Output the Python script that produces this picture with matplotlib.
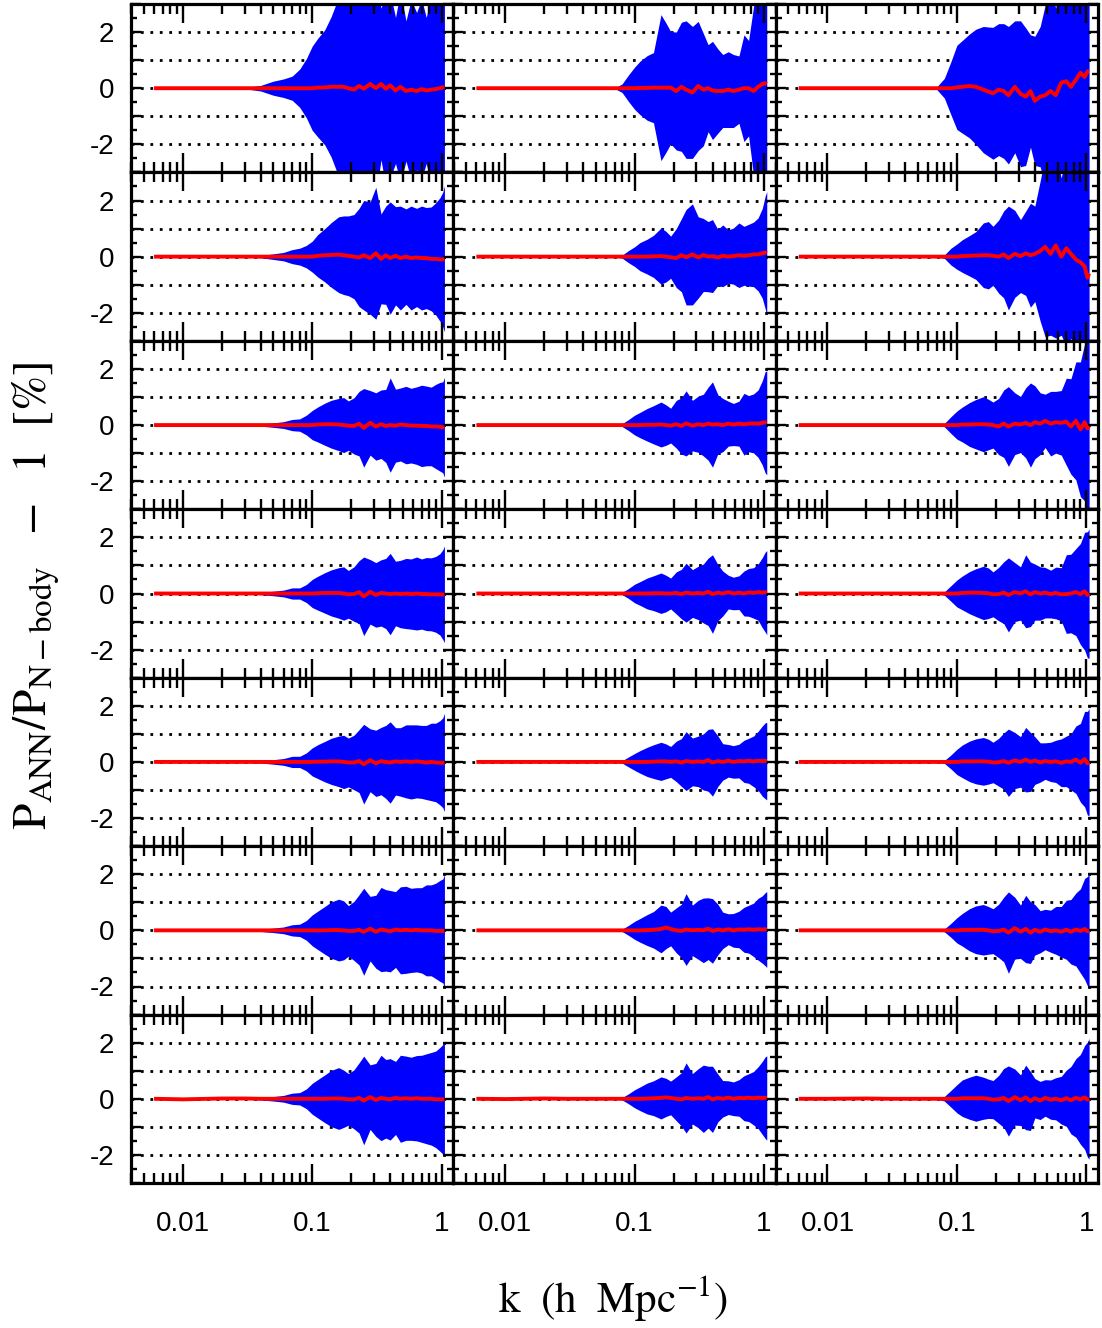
import numpy as np
import matplotlib
matplotlib.use("Agg")
import matplotlib.pyplot as plt
from matplotlib.ticker import FixedLocator, LogLocator, NullFormatter, FixedFormatter, MultipleLocator

# wavenumbers (h/Mpc) shared by every panel
k = [0.006, 0.01, 0.02, 0.03, 0.04, 0.05, 0.06, 0.07, 0.08, 0.09, 0.1, 0.11,
     0.125, 0.14, 0.16, 0.175, 0.19, 0.21, 0.23, 0.25, 0.28, 0.31, 0.34, 0.37,
     0.40, 0.44, 0.48, 0.53, 0.58, 0.64, 0.70, 0.76, 0.83, 0.90, 0.97, 1.02, 1.05]

Z11 = [0] * 11
Z10 = [0] * 10

# mean relative difference [%] per row, columns left -> right
mean_row1 = [
    Z11 + [0.02, 0.03, 0.05, 0.05, 0.05, 0.0, -0.05, 0.08, -0.02, 0.15, 0.0, 0.15, -0.02, 0.1, -0.08, 0.05, -0.1, -0.05, -0.1, -0.03, -0.08, -0.05, -0.03, 0.0, 0.03, 0.05],
    Z11 + [0.01, 0.01, 0.02, 0.02, 0.02, 0.02, -0.1, 0.05, -0.05, -0.15, 0.08, -0.05, 0.0, -0.08, -0.1, -0.1, -0.05, -0.1, -0.05, 0.0, 0.0, -0.1, 0.05, 0.15, 0.18, 0.15],
    Z10 + [0.03, 0.05, 0.08, 0.05, -0.05, -0.12, -0.18, -0.05, -0.1, -0.25, 0.05, -0.2, -0.3, -0.1, -0.45, -0.3, -0.25, -0.1, -0.25, 0.2, 0.25, 0.05, 0.3, 0.55, 0.4, 0.6, 0.6],
]
mean_row2 = [
    Z11 + [0.03, 0.05, 0.06, 0.07, 0.05, 0.03, 0.0, -0.03, 0.05, -0.05, 0.12, -0.08, 0.05, -0.05, 0.03, -0.05, 0.0, -0.05, -0.03, -0.05, -0.05, -0.08, -0.08, -0.1, -0.1, -0.08],
    Z11 + [0.0, 0.0, 0.01, 0.02, 0.0, -0.02, -0.05, 0.05, -0.02, 0.08, -0.03, 0.06, 0.0, 0.02, -0.03, 0.03, 0.0, 0.02, 0.05, 0.03, 0.05, 0.08, 0.08, 0.12, 0.15, 0.12],
    Z11 + [0.02, 0.03, 0.04, 0.05, 0.05, 0.03, 0.0, 0.08, -0.05, 0.1, 0.02, 0.12, 0.05, 0.1, 0.2, 0.35, 0.1, 0.4, 0.0, 0.3, 0.1, -0.1, -0.2, -0.35, -0.75, -0.6],
]
mean_row3 = [
    Z11 + [0.02, 0.03, 0.03, 0.02, 0.0, -0.02, -0.03, 0.05, -0.1, 0.08, -0.05, 0.03, -0.03, 0.0, -0.02, 0.02, 0.0, -0.02, -0.02, -0.03, -0.03, -0.05, -0.05, -0.06, -0.08, -0.08],
    Z11 + [0.0, 0.01, 0.01, 0.02, 0.0, -0.02, 0.03, -0.03, 0.06, -0.02, 0.03, 0.0, 0.05, 0.02, 0.03, 0.0, 0.05, 0.02, 0.05, 0.03, 0.05, 0.06, 0.05, 0.08, 0.1, 0.08],
    Z11 + [0.02, 0.02, 0.03, 0.03, 0.02, 0.0, -0.05, 0.05, -0.05, 0.05, 0.02, 0.08, 0.0, 0.1, 0.05, 0.15, 0.05, 0.1, 0.08, 0.12, -0.05, 0.15, -0.15, 0.1, -0.12, -0.05],
]
mean_row4 = [
    Z11 + [0.01, 0.02, 0.02, 0.02, 0.0, -0.03, -0.02, 0.05, -0.1, 0.06, -0.05, 0.02, 0.0, -0.02, 0.0, -0.02, 0.0, -0.02, 0.0, -0.02, -0.02, -0.03, -0.03, -0.03, -0.04, -0.03],
    Z11 + [0.0, 0.0, 0.01, 0.01, 0.0, 0.0, 0.02, -0.02, 0.03, 0.0, 0.02, 0.0, 0.06, -0.02, 0.03, 0.0, 0.05, 0.0, 0.03, 0.0, 0.04, 0.02, 0.05, 0.03, 0.05, 0.03],
    Z11 + [0.02, 0.03, 0.03, 0.02, 0.01, -0.03, -0.02, 0.03, -0.05, 0.05, 0.0, 0.08, -0.03, 0.05, 0.0, 0.03, -0.02, 0.02, -0.03, -0.02, 0.0, 0.05, -0.02, 0.08, -0.05, 0.0],
]
mean_row5 = [
    Z11 + [0.01, 0.01, 0.02, 0.02, 0.0, -0.02, -0.02, 0.03, -0.08, 0.06, -0.05, 0.03, 0.0, -0.02, 0.02, 0.0, 0.02, 0.0, 0.02, 0.0, -0.02, 0.0, -0.02, -0.03, -0.03, -0.02],
    Z11 + [0.0, 0.0, 0.01, 0.02, 0.02, 0.0, 0.02, -0.02, 0.03, 0.0, 0.02, 0.0, 0.06, -0.02, 0.03, 0.0, 0.04, 0.0, 0.03, 0.02, 0.04, 0.02, 0.04, 0.03, 0.04, 0.03],
    Z11 + [0.02, 0.02, 0.02, 0.02, 0.01, -0.02, -0.01, 0.03, -0.03, 0.05, 0.0, 0.08, 0.0, 0.05, -0.02, 0.03, 0.0, 0.02, -0.03, 0.02, 0.0, 0.08, -0.03, 0.1, -0.05, 0.0],
]
mean_row6 = [
    Z11 + [0.0, 0.0, 0.01, 0.01, 0.0, -0.02, -0.02, 0.02, -0.05, 0.06, -0.05, 0.03, 0.0, -0.03, 0.03, 0.0, 0.02, 0.0, 0.02, 0.0, 0.0, 0.0, -0.02, -0.02, -0.02, -0.02],
    Z11 + [0.0, 0.01, 0.02, 0.05, 0.1, 0.05, 0.0, -0.02, 0.03, 0.0, 0.02, 0.0, 0.06, -0.02, 0.03, 0.0, 0.04, 0.0, 0.03, 0.02, 0.04, 0.02, 0.04, 0.03, 0.04, 0.03],
    Z11 + [0.02, 0.02, 0.02, 0.02, 0.0, -0.03, -0.02, 0.03, -0.08, 0.08, -0.05, 0.05, -0.08, 0.02, -0.05, 0.03, -0.03, 0.0, -0.05, 0.02, -0.05, 0.03, -0.02, 0.05, -0.03, 0.0],
]
mean_row7 = [
    [0, -0.02, 0.01, 0.01, 0, 0, 0, 0, 0, 0, 0] + [0.0, 0.0, 0.01, 0.01, 0.0, -0.02, -0.02, 0.03, -0.06, 0.06, -0.04, 0.03, 0.0, -0.02, 0.03, 0.0, 0.02, 0.0, 0.02, 0.0, 0.0, 0.0, -0.02, -0.02, -0.02, -0.02],
    [0, -0.01, 0.01, 0.0, 0, 0, 0, 0, 0, 0, 0] + [0.0, 0.01, 0.02, 0.03, 0.05, 0.03, 0.0, -0.02, 0.03, 0.0, 0.02, 0.0, 0.06, -0.02, 0.03, 0.0, 0.04, 0.0, 0.03, 0.02, 0.04, 0.02, 0.04, 0.03, 0.04, 0.03],
    [0, 0.0, 0.01, 0.0, 0, 0, 0, 0, 0, 0, 0] + [0.02, 0.02, 0.02, 0.02, 0.0, -0.03, -0.02, 0.03, -0.08, 0.06, -0.05, 0.05, -0.08, 0.02, -0.06, 0.03, -0.03, 0.0, -0.05, 0.02, -0.05, 0.03, -0.02, 0.05, -0.03, 0.0],
]

# scatter (1-sigma half width) [%] per row
P1 = [0, 0, 0, 0.01, 0.04]
P0 = [0, 0, 0, 0, 0]
spread_row1 = [
    [0, 0, 0, 0.02, 0.1] + [0.25, 0.33, 0.43, 0.68, 1.05, 1.5, 1.75, 2.05, 2.5, 3.2, 3.6, 3.8, 3.6, 4.0, 3.8, 3.5, 3.8, 2.7, 3.5, 3.3, 2.6, 3.4, 2.5, 3.2, 2.8, 3.2, 2.6, 3.4, 3.2, 3.8, 4.0, 4.0],
    P0 + [0, 0, 0.01, 0.15, 0.48, 0.75, 0.95, 1.15, 1.25, 2.6, 2.3, 2.0, 2.1, 2.3, 2.45, 2.35, 2.3, 2.0, 1.55, 1.75, 1.5, 1.3, 1.35, 1.3, 1.2, 1.9, 1.7, 3.0, 3.8, 3.8, 3.8, 3.8],
    P0 + [0, 0, 0.05, 0.35, 0.95, 1.5, 1.65, 1.85, 2.05, 2.25, 2.3, 2.35, 2.35, 2.4, 2.45, 2.35, 2.6, 2.45, 2.0, 2.3, 2.5, 3.2, 3.6, 3.1, 3.7, 3.3, 3.8, 3.6, 4.0, 3.9, 4.0, 4.0],
]
spread_row2 = [
    P1 + [0.1, 0.15, 0.25, 0.3, 0.4, 0.55, 0.75, 0.95, 1.15, 1.35, 1.4, 1.42, 1.5, 1.75, 1.95, 2.0, 2.35, 1.6, 1.75, 2.0, 1.75, 1.85, 1.7, 1.85, 1.75, 1.85, 1.8, 1.85, 2.0, 2.2, 2.4, 2.6],
    P0 + [0, 0, 0.01, 0.05, 0.22, 0.35, 0.5, 0.62, 0.75, 1.0, 0.9, 0.75, 1.05, 1.3, 1.7, 1.8, 1.45, 1.3, 1.25, 1.3, 1.0, 1.1, 0.95, 1.0, 1.15, 1.05, 1.1, 1.15, 1.3, 1.6, 2.0, 2.2],
    P0 + [0, 0, 0.01, 0.06, 0.3, 0.45, 0.58, 0.72, 0.85, 1.15, 1.2, 1.05, 1.3, 1.55, 1.85, 1.55, 1.3, 1.5, 1.85, 1.7, 2.5, 3.2, 2.9, 3.3, 2.8, 3.5, 3.0, 3.6, 4.0, 3.8, 4.0, 4.0],
]
spread_row3 = [
    P1 + [0.08, 0.12, 0.2, 0.22, 0.35, 0.52, 0.62, 0.75, 0.85, 0.93, 0.98, 0.88, 1.0, 1.15, 1.4, 1.15, 1.2, 1.22, 1.3, 1.68, 1.3, 1.3, 1.38, 1.33, 1.38, 1.45, 1.42, 1.4, 1.5, 1.58, 1.62, 1.78],
    P0 + [0, 0, 0.01, 0.05, 0.2, 0.35, 0.45, 0.58, 0.68, 0.8, 0.72, 0.62, 0.85, 1.0, 1.16, 0.9, 1.0, 1.1, 1.3, 1.52, 1.05, 0.95, 0.8, 0.75, 0.8, 1.1, 1.0, 1.05, 1.2, 1.5, 1.8, 1.85],
    P0 + [0, 0, 0.01, 0.06, 0.3, 0.5, 0.62, 0.78, 0.88, 0.98, 0.9, 0.82, 1.0, 1.2, 1.42, 1.1, 1.0, 1.25, 1.5, 1.3, 1.1, 0.95, 1.15, 1.1, 1.15, 1.55, 1.7, 2.1, 2.4, 2.8, 3.2, 3.5],
]
spread_row4 = [
    P1 + [0.08, 0.12, 0.2, 0.2, 0.32, 0.5, 0.6, 0.72, 0.82, 0.9, 0.95, 0.85, 0.97, 1.12, 1.4, 1.15, 1.15, 1.18, 1.25, 1.45, 1.15, 1.2, 1.25, 1.25, 1.3, 1.25, 1.3, 1.3, 1.35, 1.45, 1.6, 1.72],
    P0 + [0, 0, 0.01, 0.04, 0.18, 0.33, 0.42, 0.55, 0.62, 0.72, 0.65, 0.55, 0.75, 0.88, 1.05, 0.85, 0.95, 1.05, 1.2, 1.4, 1.0, 0.8, 0.6, 0.58, 0.6, 0.8, 0.85, 0.9, 1.0, 1.25, 1.42, 1.5],
    P0 + [0, 0, 0.01, 0.06, 0.28, 0.48, 0.6, 0.75, 0.85, 0.95, 0.9, 0.8, 0.95, 1.1, 1.32, 1.05, 0.95, 1.3, 1.15, 1.0, 0.95, 0.9, 0.85, 0.92, 0.95, 1.4, 1.4, 1.55, 1.8, 2.1, 2.25, 2.3],
]
spread_row5 = [
    P1 + [0.08, 0.12, 0.2, 0.2, 0.32, 0.5, 0.6, 0.72, 0.82, 0.9, 0.95, 0.87, 0.97, 1.12, 1.42, 1.12, 1.18, 1.2, 1.3, 1.45, 1.2, 1.22, 1.3, 1.32, 1.3, 1.3, 1.32, 1.38, 1.4, 1.5, 1.6, 1.75],
    P0 + [0, 0, 0.01, 0.04, 0.18, 0.3, 0.4, 0.52, 0.6, 0.68, 0.62, 0.55, 0.72, 0.85, 1.05, 0.85, 0.9, 1.0, 1.1, 1.2, 0.9, 0.65, 0.58, 0.58, 0.6, 0.75, 0.8, 0.9, 1.05, 1.25, 1.35, 1.38],
    P0 + [0, 0, 0.01, 0.05, 0.25, 0.45, 0.58, 0.72, 0.8, 0.85, 0.8, 0.72, 0.85, 1.0, 1.2, 1.0, 0.9, 1.15, 1.05, 0.85, 0.7, 0.65, 0.7, 0.75, 0.85, 0.9, 1.0, 1.2, 1.4, 1.7, 1.85, 1.9],
]
spread_row6 = [
    P1 + [0.08, 0.12, 0.2, 0.22, 0.35, 0.55, 0.68, 0.85, 1.0, 1.1, 1.05, 0.9, 1.05, 1.25, 1.55, 1.15, 1.3, 1.5, 1.45, 1.45, 1.35, 1.55, 1.55, 1.5, 1.5, 1.52, 1.62, 1.62, 1.7, 1.8, 1.85, 2.0],
    P0 + [0, 0, 0.01, 0.04, 0.18, 0.32, 0.42, 0.55, 0.65, 0.85, 0.75, 0.6, 0.8, 0.95, 1.28, 0.9, 1.05, 1.15, 1.1, 1.15, 0.9, 0.65, 0.55, 0.6, 0.65, 0.8, 0.85, 0.95, 1.1, 1.2, 1.3, 1.35],
    P0 + [0, 0, 0.01, 0.05, 0.25, 0.45, 0.58, 0.75, 0.85, 0.9, 0.85, 0.8, 0.95, 1.15, 1.45, 1.1, 0.95, 1.2, 1.1, 0.9, 0.75, 0.72, 0.75, 0.85, 0.9, 1.05, 1.15, 1.3, 1.5, 1.8, 1.95, 2.0],
]
spread_row7 = [
    P1 + [0.08, 0.12, 0.2, 0.22, 0.35, 0.55, 0.68, 0.85, 1.0, 1.1, 1.02, 0.92, 1.05, 1.25, 1.58, 1.15, 1.3, 1.52, 1.4, 1.45, 1.3, 1.55, 1.5, 1.48, 1.52, 1.55, 1.6, 1.65, 1.72, 1.85, 1.95, 2.05],
    P0 + [0, 0, 0.01, 0.04, 0.18, 0.32, 0.42, 0.55, 0.62, 0.75, 0.68, 0.6, 0.78, 0.95, 1.25, 0.9, 1.05, 1.2, 1.1, 1.18, 0.85, 0.65, 0.6, 0.6, 0.65, 0.8, 0.85, 0.95, 1.1, 1.3, 1.45, 1.5],
    P0 + [0, 0, 0.01, 0.08, 0.3, 0.5, 0.65, 0.75, 0.82, 0.75, 0.7, 0.68, 0.85, 1.05, 1.25, 1.0, 0.9, 1.15, 1.05, 0.7, 0.68, 0.65, 0.7, 0.75, 0.85, 1.0, 1.2, 1.4, 1.6, 1.85, 2.05, 2.15],
]

means = [mean_row1, mean_row2, mean_row3, mean_row4, mean_row5, mean_row6, mean_row7]
spreads = [spread_row1, spread_row2, spread_row3, spread_row4, spread_row5, spread_row6, spread_row7]

x_ticks = [0.01, 0.1, 1]
x_ticklabels = ["0.01", "0.1", "1"]
y_ticks = [-3, -2, -1, 0, 1, 2, 3]
y_ticklabels = ["", "-2", "", "0", "", "2", ""]
grid_levels = [-2, -1, 0, 1, 2]

plt.rcParams['font.family'] = ['Liberation Sans', 'DejaVu Sans']
plt.rcParams['mathtext.fontset'] = 'stix'

W, H = 1102, 1328
fig, axes = plt.subplots(7, 3, figsize=(W / 100, H / 100), dpi=100)
fig.subplots_adjust(left=131 / W, right=1098 / W, top=1 - 4 / H, bottom=1 - 1183 / H,
                    wspace=0, hspace=0)

kk = np.array(k)
for r in range(7):
    for c in range(3):
        ax = axes[r, c]
        m = np.array(means[r][c], dtype=float)
        s = np.array(spreads[r][c], dtype=float)
        for yv in grid_levels:
            ax.axhline(yv, color='black', lw=2.0, ls=(0, (1, 2.4)), zorder=0.5)
        ax.fill_between(kk, m - s, m + s, color='#0000ff', lw=0, zorder=1)
        ax.plot(kk, m, color='#ff0000', lw=2.8, zorder=2, solid_capstyle='butt')
        ax.set_xscale('log')
        ax.set_xlim(10 ** -2.4, 10 ** 0.09)
        ax.set_ylim(-3, 3)

        ax.xaxis.set_major_locator(FixedLocator(x_ticks))
        ax.xaxis.set_minor_locator(LogLocator(base=10, subs=np.arange(2, 10)))
        ax.xaxis.set_minor_formatter(NullFormatter())
        ax.yaxis.set_major_locator(FixedLocator(y_ticks))
        ax.yaxis.set_minor_locator(MultipleLocator(0.5))

        if r == 6:
            ax.xaxis.set_major_formatter(FixedFormatter(x_ticklabels))
        else:
            ax.xaxis.set_major_formatter(NullFormatter())
        if c == 0:
            ax.yaxis.set_major_formatter(FixedFormatter(y_ticklabels))
        else:
            ax.yaxis.set_major_formatter(NullFormatter())

        ax.tick_params(axis='x', which='major', direction='in', top=True, bottom=True,
                       length=14, width=1.7, labelsize=20, pad=20)
        ax.tick_params(axis='x', which='minor', direction='in', top=True, bottom=True,
                       length=7.5, width=1.7)
        ax.tick_params(axis='y', which='major', direction='in', left=True, right=True,
                       length=7.5, width=1.7, labelsize=20, pad=12)
        ax.tick_params(axis='y', which='minor', direction='in', left=True, right=True,
                       length=4.5, width=1.7)
        for sp in ax.spines.values():
            sp.set_linewidth(2.3)
            sp.set_zorder(5)

fig.text(613 / W, 1 - 1298 / H, r'$\mathrm{k\ \ (h\ \ Mpc^{-1})}$', ha='center', va='center',
         fontsize=31)
fig.text(36 / W, 1 - 596 / H, r'$\mathrm{P_{ANN}/P_{N-body}\ \ -\ \ 1\ \ [\%]}$',
         ha='center', va='center', rotation=90, fontsize=34)

fig.savefig('out.png', dpi=100)
